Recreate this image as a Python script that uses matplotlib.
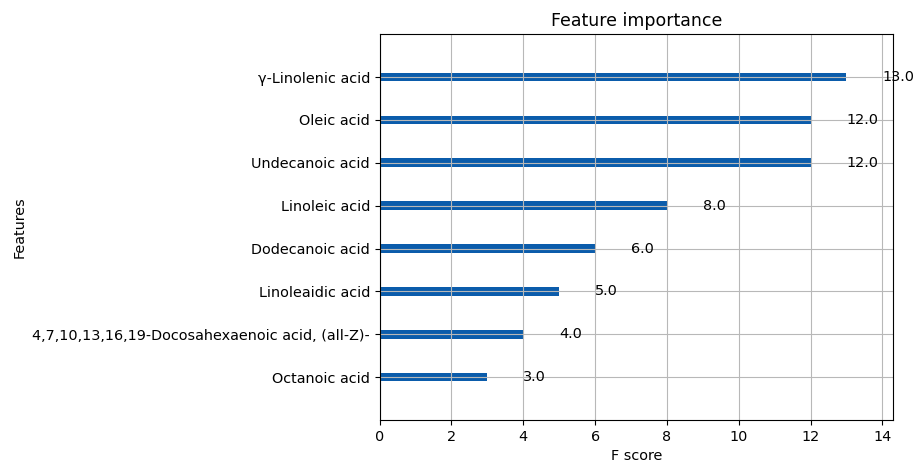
import matplotlib
matplotlib.use('Agg')
import matplotlib.pyplot as plt

features = ['Octanoic acid', '4,7,10,13,16,19-Docosahexaenoic acid, (all-Z)-',
            'Linoleaidic acid', 'Dodecanoic acid', 'Linoleic acid',
            'Undecanoic acid', 'Oleic acid', 'γ-Linolenic acid']
scores = [3.0, 4.0, 5.0, 6.0, 8.0, 12.0, 12.0, 13.0]

plt.rcParams['font.size'] = 10.4

fig = plt.figure(figsize=(9.17, 4.62), dpi=100)
ax = fig.add_axes([0.414, 0.091, 0.56, 0.835])

ylocs = range(len(scores))
ax.barh(ylocs, scores, height=0.2, align='center', color='#0b5cab')
for x, y in zip(scores, ylocs):
    ax.text(x + 1, y, str(x), va='center')

ax.set_yticks(list(ylocs))
ax.set_yticklabels(features)
ax.set_xlim(0, 14.3)
ax.set_ylim(-1, len(scores))
ax.set_title('Feature importance')
ax.set_xlabel('F score')
ax.set_ylabel('Features')
ax.grid(True, color='#b8b8b8')

fig.savefig('out.png', dpi=100)
